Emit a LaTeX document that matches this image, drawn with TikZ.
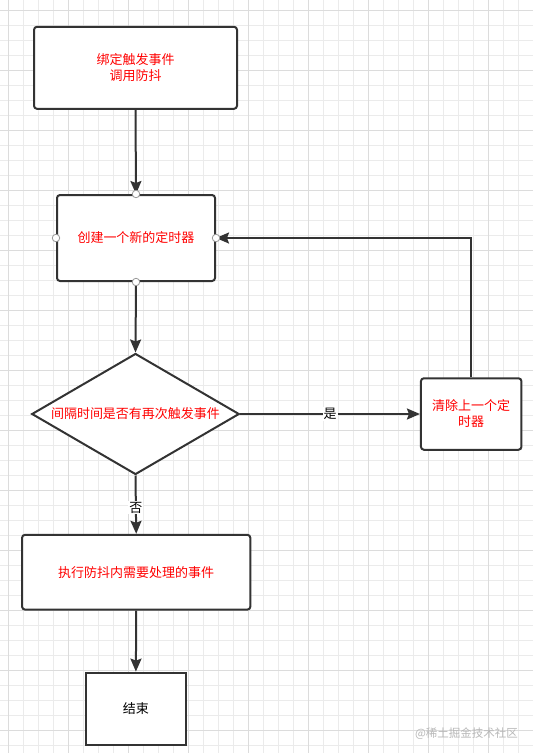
\documentclass[tikz,border=0pt]{standalone}
\usepackage{fontspec}
\setmainfont{Noto Sans CJK SC}
\usetikzlibrary{shapes.geometric,arrows.meta}
\definecolor{ln}{HTML}{333333}
\definecolor{txtred}{HTML}{FF0000}
\definecolor{gridminor}{HTML}{EBEBEB}
\definecolor{gridmajor}{HTML}{DCDCDC}
\definecolor{wm}{HTML}{B8B8B8}
\tikzset{
  box/.style={draw=ln, line width=2pt, rounded corners=3pt, fill=white, align=center,
    text=txtred, font=\fontsize{13}{16}\selectfont, inner sep=0pt},
  endbox/.style={draw=ln, line width=2pt, fill=white, align=center,
    text=black, font=\fontsize{13}{16}\selectfont, inner sep=0pt},
  decision/.style={diamond, shape aspect=1.715, draw=ln, line width=2pt, fill=white, inner sep=0pt,
    text=txtred, font=\fontsize{13}{16}\selectfont},
  flow/.style={draw=ln, line width=2pt, -{Stealth[length=13pt,width=11pt,inset=2pt]}},
  elabel/.style={fill=white, text=black, inner sep=1pt, font=\fontsize{13}{16}\selectfont},
  cpoint/.style={circle, draw=gray!80, fill=white, line width=0.8pt, minimum size=7.5pt, inner sep=0pt},
}
\begin{document}
\begin{tikzpicture}[x=1pt,y=-1pt]
\useasboundingbox (0,0) rectangle (533,753);
\fill[white] (0,0) rectangle (533,753);
% grid
\foreach \i in {0,...,35} {
  \draw[gridminor, line width=0.8pt] ({8.3+15*\i},0) -- ({8.3+15*\i},753);
}
\foreach \j in {0,...,50} {
  \draw[gridminor, line width=0.8pt] (0,{10+15*\j}) -- (533,{10+15*\j});
}
\foreach \i in {0,...,8} {
  \draw[gridmajor, line width=0.8pt] ({8.3+60*\i},0) -- ({8.3+60*\i},753);
}
\foreach \j in {0,...,12} {
  \draw[gridmajor, line width=0.8pt] (0,{10+60*\j}) -- (533,{10+60*\j});
}
% nodes
\node[box, minimum width=203pt, minimum height=82pt] (bind) at (135.5,67.8) {绑定触发事件\\调用防抖};
\node[box, minimum width=158pt, minimum height=86pt] (create) at (136,238) {创建一个新的定时器};
\node[decision, minimum width=207.5pt, minimum height=121pt] (dec) at (135.5,414) {间隔时间是否有再次触发事件};
\node[box, minimum width=100.5pt, minimum height=71.5pt, text width=80pt] (clear) at (471.2,414) {清除上一个定\\时器};
\node[box, minimum width=228.3pt, minimum height=74.8pt] (exec) at (136.2,572.2) {执行防抖内需要处理的事件};
\node[endbox, minimum width=100.3pt, minimum height=72.8pt] (end) at (135.9,709) {结束};
% connectors
\draw[flow] (bind.south) -- (create.north);
\draw[flow] (create.south) -- (dec.north);
\draw[flow] (dec.east) -- node[elabel, pos=0.5] {是} (clear.west);
\draw[flow] (clear.north) |- (create.east);
\draw[flow] (dec.south) -- node[elabel, pos=0.55] {否} (exec.north);
\draw[flow] (exec.south) -- (end.north);
% connection points
\foreach \a in {north,south,east,west} {
  \node[cpoint] at (create.\a) {};
}
% watermark
\node[text=wm, font=\fontsize{11.5}{14}\selectfont, inner sep=0pt] (mark) at (466.5,734) {@稀土掘金技术社区};
\end{tikzpicture}
\end{document}
